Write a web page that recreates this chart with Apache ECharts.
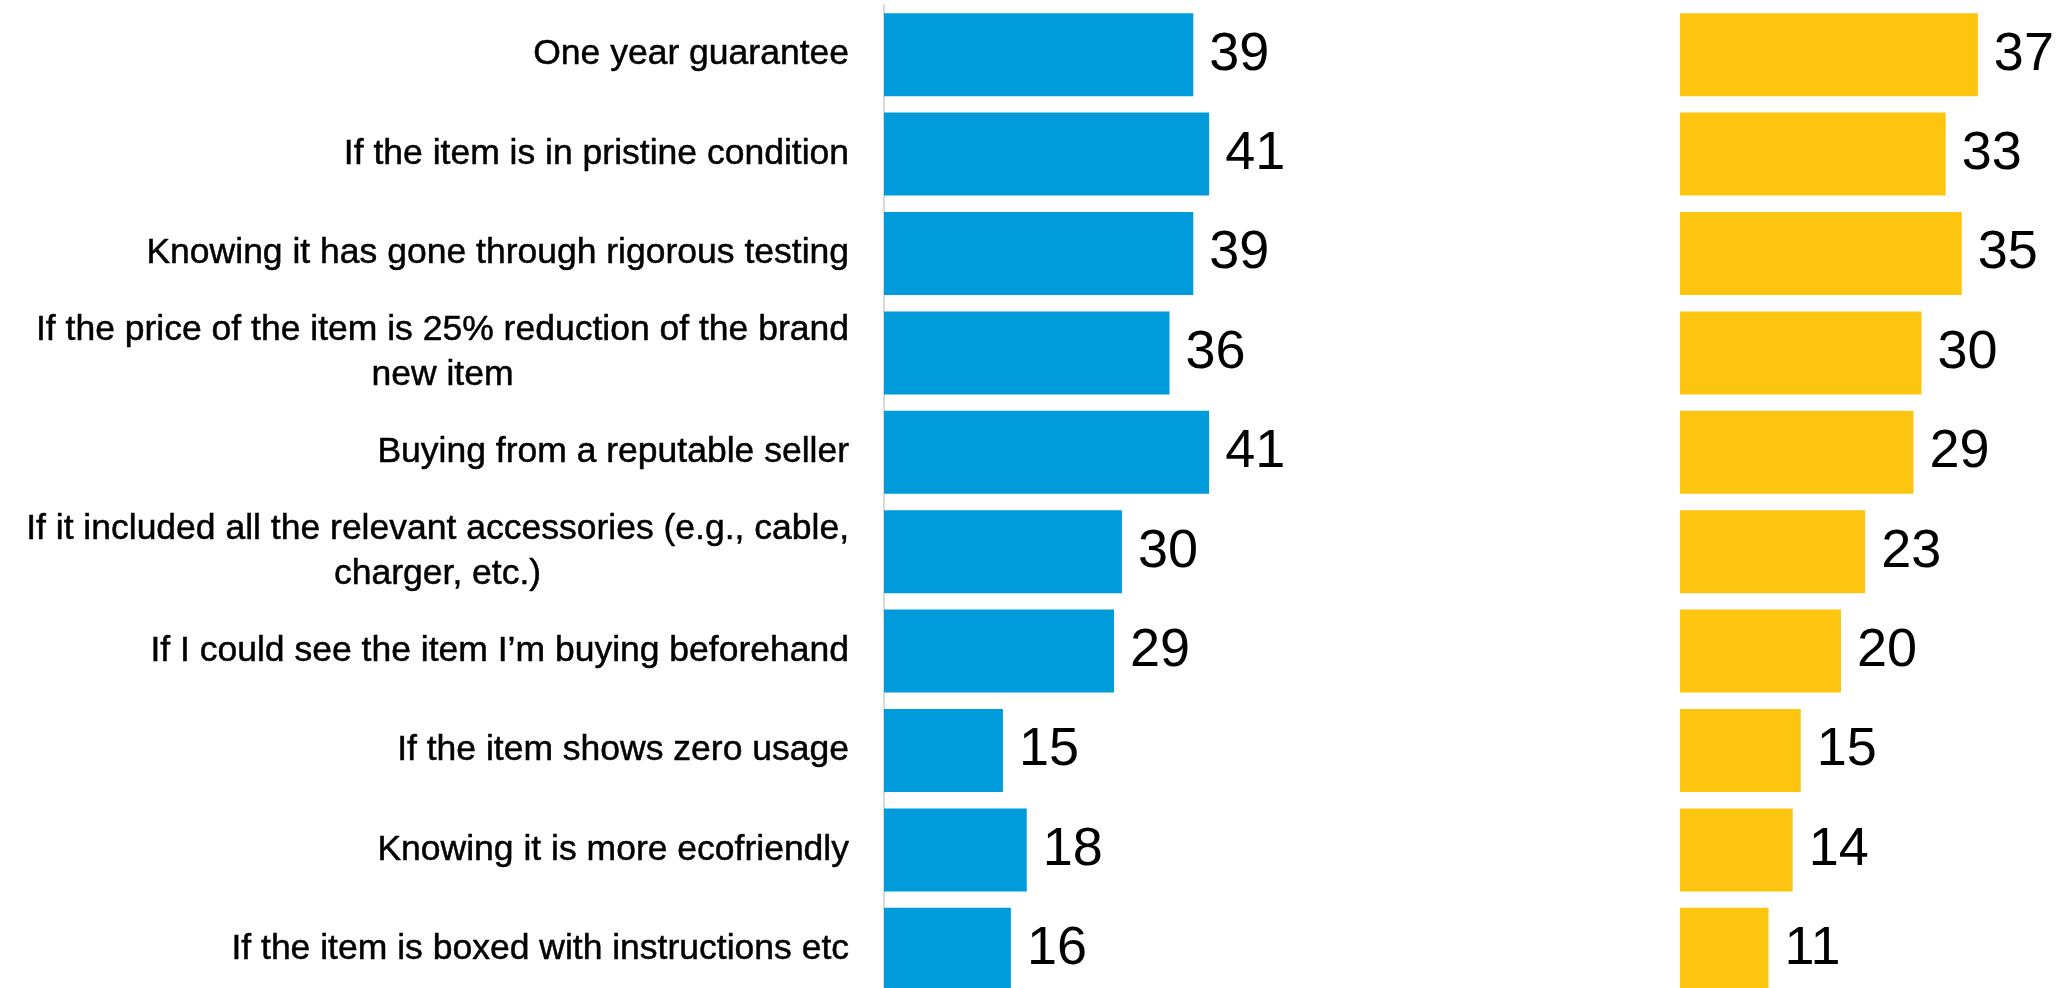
<!DOCTYPE html>
<html>
<head>
<meta charset="utf-8">
<script src="https://cdn.jsdelivr.net/npm/echarts@6/dist/echarts.min.js"></script>
<style>
html,body{margin:0;padding:0;background:#fff;}
#chart{width:2056px;height:988px;}
</style>
</head>
<body>
<div id="chart"></div>
<script>
const categories = [
  "One year guarantee",
  "If the item is in pristine condition",
  "Knowing it has gone through rigorous testing",
  "If the price of the item is 25% reduction of the brand\nnew item",
  "Buying from a reputable seller",
  "If it included all the relevant accessories (e.g., cable,\ncharger, etc.)",
  "If I could see the item I\u2019m buying beforehand",
  "If the item shows zero usage",
  "Knowing it is more ecofriendly",
  "If the item is boxed with instructions etc"
];
const blueValues = [39, 41, 39, 36, 41, 30, 29, 15, 18, 16];
const yellowValues = [37, 33, 35, 30, 29, 23, 20, 15, 14, 11];

const chart = echarts.init(document.getElementById('chart'));
const labelFont = 'Liberation Sans';
const valueLabel = {
  show: true, position: 'right', distance: 16,
  color: '#000', fontSize: 54, fontFamily: labelFont
};
chart.setOption({
  animation: false,
  backgroundColor: '#fff',
  grid: [
    {left: 884, top: 5, width: 396.5, height: 994, containLabel: false, outerBoundsMode: 'none'},
    {left: 1680, top: 5, width: 370.3, height: 994, containLabel: false, outerBoundsMode: 'none'}
  ],
  xAxis: [
    {gridIndex: 0, type: 'value', min: 0, max: 50, show: false},
    {gridIndex: 1, type: 'value', min: 0, max: 46, show: false}
  ],
  yAxis: [
    {
      gridIndex: 0, type: 'category', data: categories, inverse: true, offset: 2,
      axisLine: {show: true, lineStyle: {color: '#d9d9d9', width: 2}},
      axisTick: {show: false},
      splitLine: {show: false},
      axisLabel: {
        interval: 0, margin: 33, color: '#000', fontSize: 35.5, fontFamily: labelFont,
        lineHeight: 45,
        formatter: function (v) {
          return v.split('\n').map(function (l) { return '{c|' + l + '}'; }).join('\n');
        },
        rich: {c: {align: 'center', fontSize: 35.5, fontFamily: labelFont, color: '#000', lineHeight: 45,
                   textBorderColor: '#000', textBorderWidth: 0.5}}
      }
    },
    {
      gridIndex: 1, type: 'category', data: categories, inverse: true,
      axisLine: {show: false}, axisTick: {show: false}, axisLabel: {show: false}
    }
  ],
  series: [
    {
      type: 'bar', xAxisIndex: 0, yAxisIndex: 0, data: blueValues,
      barCategoryGap: '16.5%', itemStyle: {color: '#009bdb'}, label: valueLabel
    },
    {
      type: 'bar', xAxisIndex: 1, yAxisIndex: 1, data: yellowValues,
      barCategoryGap: '16.5%', itemStyle: {color: '#fdc50f'}, label: valueLabel
    }
  ]
});
</script>
</body>
</html>
